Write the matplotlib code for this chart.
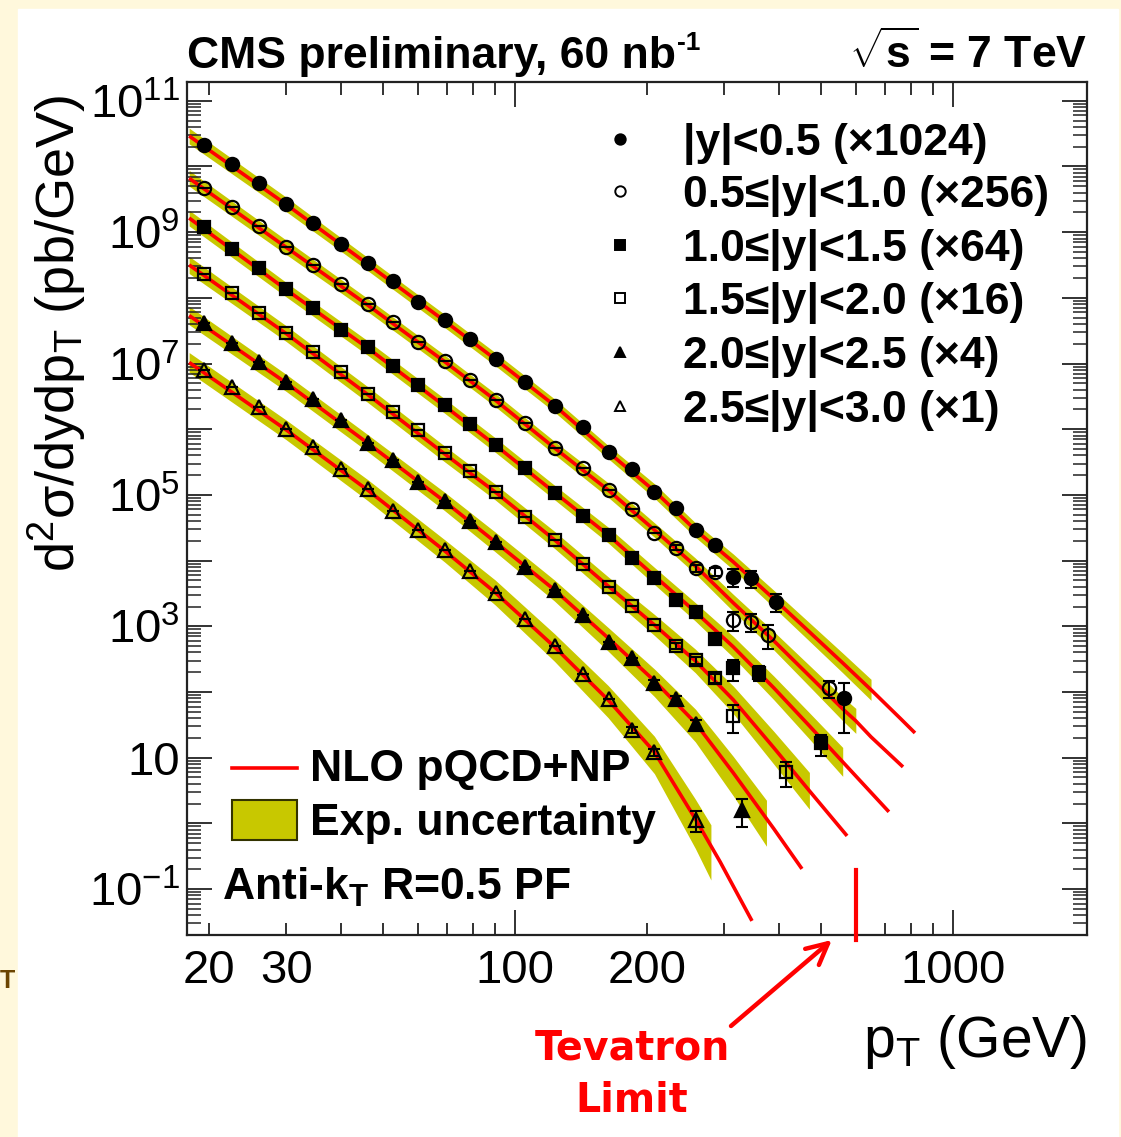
import numpy as np
import matplotlib
matplotlib.use("Agg")
import matplotlib.pyplot as plt
from matplotlib.patches import Rectangle
from matplotlib.lines import Line2D
from matplotlib.ticker import FixedLocator, FuncFormatter, NullFormatter

plt.rcParams["font.family"] = ["Liberation Sans", "DejaVu Sans"]
plt.rcParams["mathtext.fontset"] = "custom"
plt.rcParams["mathtext.rm"] = "Liberation Sans"
plt.rcParams["mathtext.it"] = "Liberation Sans:italic"
plt.rcParams["mathtext.bf"] = "Liberation Sans:bold"

W, H = 1121, 1137

# rapidity bins, each scaled by the factor quoted in its label
rap_labels = ["|y|<0.5 (×1024)", "0.5≤|y|<1.0 (×256)", "1.0≤|y|<1.5 (×64)",
              "1.5≤|y|<2.0 (×16)", "2.0≤|y|<2.5 (×4)", "2.5≤|y|<3.0 (×1)"]
markers = ["o", "o", "s", "s", "^", "^"]
filled = [True, False, True, False, True, False]

# jet pT bin centres (GeV)
pt_bins = [19.5, 22.5, 26, 30, 34.5, 40, 46, 52.5, 60, 69, 79, 90.5, 105.5,
           123.5, 143, 163.5, 185, 208, 232.5, 258.5, 286, 315, 346]

# measured d2sigma/dydpT in pb/GeV (already multiplied by the factor)
pt_y0 = pt_bins[:23] + [395, 565]
xs_y0 = [2.12e10, 1.08e10, 5.55e9, 2.69e9, 1.40e9, 6.61e8, 3.36e8, 1.81e8,
         8.75e7, 4.61e7, 2.34e7, 1.16e7, 5.19e6, 2.26e6, 1.10e6, 4.56e5,
         2.49e5, 1.12e5, 6.41e4, 2.93e4, 1.73e4, 5.71e3, 5.40e3, 2.38e3, 80.5]
pt_y1 = pt_bins[:23] + [378, 520]
xs_y1 = [4.75e9, 2.44e9, 1.24e9, 6.01e8, 3.17e8, 1.61e8, 8.0e7, 4.34e7,
         2.15e7, 1.11e7, 5.63e6, 2.79e6, 1.23e6, 5.14e5, 2.55e5, 1.19e5,
         6.12e4, 2.67e4, 1.58e4, 7.74e3, 6.80e3, 1.25e3, 1.18e3, 740, 114]
pt_y2 = pt_bins[:22] + [360, 500]
xs_y2 = [1.19e9, 5.55e8, 2.82e8, 1.37e8, 6.95e7, 3.25e7, 1.76e7, 9.10e6,
         4.72e6, 2.34e6, 1.20e6, 5.77e5, 2.55e5, 1.08e5, 4.79e4, 2.46e4,
         1.09e4, 5.51e3, 2.48e3, 1.66e3, 643, 230, 197, 16.6]
pt_y3 = pt_bins[:22] + [415]
xs_y3 = [2.29e8, 1.17e8, 5.83e7, 2.92e7, 1.48e7, 7.40e6, 3.44e6, 1.85e6,
         9.76e5, 4.31e5, 2.30e5, 1.12e5, 4.67e4, 2.07e4, 8.91e3, 3.94e3,
         2.05e3, 1.05e3, 500, 308, 162, 43.6, 6.04]
pt_y4 = pt_bins[:20] + [330]
xs_y4 = [4.10e7, 2.08e7, 1.07e7, 5.30e6, 2.86e6, 1.39e6, 6.25e5, 3.41e5,
         1.59e5, 8.19e4, 4.06e4, 1.91e4, 8.10e3, 3.58e3, 1.49e3, 585, 327,
         138, 78, 32.1, 1.60]
pt_y5 = pt_bins[:18] + [258.5]
xs_y5 = [8.0e6, 4.36e6, 2.16e6, 1.01e6, 5.32e5, 2.46e5, 1.22e5, 5.77e4,
         2.93e4, 1.44e4, 7.02e3, 3.26e3, 1.30e3, 508, 189, 77.6, 26.5, 12.0,
         1.13]

# relative statistical errors of the last (high-pT) points of each bin
stat_tail = [
    [0.06, 0.08, 0.12, 0.30, 0.30, 0.30, 0.70],
    [0.08, 0.12, 0.15, 0.32, 0.30, 0.40, 0.30],
    [0.08, 0.12, 0.15, 0.35, 0.25, 0.35],
    [0.10, 0.12, 0.15, 0.45, 0.40],
    [0.10, 0.12, 0.15, 0.45],
    [0.10, 0.12, 0.35],
]

# NLO pQCD + NP prediction (pb/GeV, scaled)
nlo_pt_y0 = [18, 30, 46, 69, 90, 123, 163, 208, 258, 315, 390, 470, 560, 650, 760, 819]
nlo_y0 = [2.91e10, 2.64e9, 3.28e8, 4.45e7, 1.17e7, 2.30e6, 4.51e5, 1.15e5,
          2.93e4, 9.55e3, 2.61e3, 822, 277, 108, 39.0, 23.8]
nlo_pt_y1 = [18, 30, 46, 69, 90, 123, 163, 208, 258, 315, 390, 470, 560, 600, 650, 769]
nlo_y1 = [6.61e9, 5.87e8, 7.80e7, 1.07e7, 2.79e6, 5.19e5, 1.19e5, 2.93e4,
          8.30e3, 2.27e3, 600, 176, 55.3, 36.3, 20.7, 7.24]
nlo_pt_y2 = [18, 30, 46, 69, 90, 123, 163, 208, 258, 315, 390, 470, 560, 714]
nlo_y2 = [1.64e9, 1.33e8, 1.73e7, 2.26e6, 5.77e5, 1.09e5, 2.46e4, 5.85e3,
          1.66e3, 486, 115, 30.5, 8.63, 1.50]
nlo_pt_y3 = [18, 30, 46, 69, 90, 123, 163, 208, 258, 315, 390, 470, 573]
nlo_y3 = [3.17e8, 2.85e7, 3.39e6, 4.21e5, 1.11e5, 2.07e4, 4.12e3, 1.05e3,
          297, 75.9, 14.1, 3.13, 0.645]
nlo_pt_y4 = [18, 30, 46, 69, 90, 123, 163, 208, 258, 315, 375, 390, 452]
nlo_y4 = [5.38e7, 5.07e6, 6.18e5, 7.96e4, 1.93e4, 3.58e3, 666, 148, 33.9,
          5.87, 1.18, 0.824, 0.203]
nlo_pt_y5 = [18, 30, 46, 69, 90, 123, 163, 208, 258, 280, 294, 347.5]
nlo_y5 = [1.04e7, 9.76e5, 1.19e5, 1.41e4, 3.28e3, 486, 75.9, 12.2, 1.17,
          0.455, 0.259, 0.0328]

# experimental uncertainty band, in decades below / above the prediction
band_dn = [
    [0.12, 0.11, 0.10, 0.10, 0.10, 0.10, 0.10, 0.11, 0.11, 0.12, 0.13, 0.14, 0.15, 0.16],
    [0.12, 0.11, 0.10, 0.10, 0.10, 0.10, 0.11, 0.11, 0.12, 0.13, 0.14, 0.16, 0.18, 0.19],
    [0.12, 0.11, 0.11, 0.11, 0.11, 0.11, 0.12, 0.13, 0.14, 0.16, 0.18, 0.20, 0.22],
    [0.13, 0.12, 0.12, 0.12, 0.12, 0.13, 0.14, 0.16, 0.18, 0.21, 0.25, 0.28],
    [0.14, 0.13, 0.13, 0.14, 0.15, 0.17, 0.20, 0.24, 0.29, 0.35, 0.42],
    [0.15, 0.15, 0.16, 0.17, 0.19, 0.22, 0.27, 0.33, 0.45, 0.52],
]
band_up = [
    [0.12, 0.11, 0.10, 0.10, 0.10, 0.10, 0.10, 0.11, 0.11, 0.12, 0.13, 0.14, 0.15, 0.16],
    [0.12, 0.11, 0.10, 0.10, 0.10, 0.10, 0.11, 0.11, 0.12, 0.13, 0.14, 0.16, 0.18, 0.19],
    [0.12, 0.11, 0.11, 0.11, 0.11, 0.11, 0.12, 0.13, 0.14, 0.16, 0.18, 0.20, 0.22],
    [0.13, 0.12, 0.12, 0.12, 0.12, 0.13, 0.14, 0.16, 0.18, 0.21, 0.25, 0.28],
    [0.14, 0.13, 0.13, 0.14, 0.15, 0.15, 0.16, 0.18, 0.21, 0.25, 0.28],
    [0.15, 0.15, 0.16, 0.17, 0.19, 0.20, 0.22, 0.24, 0.30, 0.32],
]

tevatron_limit = 600  # GeV

data_pt = [pt_y0, pt_y1, pt_y2, pt_y3, pt_y4, pt_y5]
data_xs = [xs_y0, xs_y1, xs_y2, xs_y3, xs_y4, xs_y5]
nlo_pt = [nlo_pt_y0, nlo_pt_y1, nlo_pt_y2, nlo_pt_y3, nlo_pt_y4, nlo_pt_y5]
nlo_xs = [nlo_y0, nlo_y1, nlo_y2, nlo_y3, nlo_y4, nlo_y5]

BAND = "#c8c800"
RED = "#ff0000"


def fx(px):
    return px / W


def fy(py):
    return 1 - py / H


fig = plt.figure(figsize=(W / 100, H / 100), dpi=100)
fig.patch.set_facecolor("#fff8dc")
fig.patches.append(Rectangle((fx(18), 0), fx(1118) - fx(18), fy(9),
                             transform=fig.transFigure, color="white", zorder=-5))

ax = fig.add_axes([fx(187), fy(935), fx(1087) - fx(187), fy(82) - fy(935)])
ax.set_zorder(1)
ax.set_xscale("log")
ax.set_yscale("log")
ax.set_xlim(17.8, 2024)
ax.set_ylim(0.02, 1.93e11)

for i in range(6):
    pt = np.array(nlo_pt[i])
    xs = np.array(nlo_xs[i])
    n = len(band_dn[i])
    lo = xs[:n] * 10 ** (-np.array(band_dn[i]))
    hi = xs[:n] * 10 ** np.array(band_up[i])
    ax.fill_between(pt[:n], lo, hi, color=BAND, lw=0, zorder=1)
    ax.plot(pt, xs, color=RED, lw=2.6, zorder=2, solid_capstyle="butt")

for i in range(6):
    pt = np.array(data_pt[i])
    xs = np.array(data_xs[i])
    tail = np.array(stat_tail[i])
    yerr = np.zeros_like(xs)
    yerr[-len(tail):] = tail * xs[-len(tail):]
    ax.errorbar(pt, xs, yerr=yerr, fmt="none", ecolor="black", elinewidth=1.5,
                capsize=4.5, capthick=1.5, zorder=3)
    ms = 9.5 if markers[i] != "s" else 8.5
    ax.plot(pt, xs, ls="none", marker=markers[i], ms=ms,
            mfc="black" if filled[i] else "none", mec="black", mew=1.6, zorder=4)

# Tevatron reach marker
ax.plot([tevatron_limit, tevatron_limit], [0.0169, 0.196], color=RED, lw=3,
        clip_on=False, zorder=5)
ax.annotate("", xy=(529, 0.0168), xycoords="data",
            xytext=(fx(731), fy(1026)), textcoords="figure fraction",
            arrowprops=dict(arrowstyle="->", color=RED, lw=3.2, mutation_scale=38,
                            shrinkA=0, shrinkB=0),
            annotation_clip=False)
fig.text(fx(632), fy(1049), "Tevatron", color=RED, fontsize=28.5, fontweight="bold",
         family="DejaVu Sans", ha="center", va="center")
fig.text(fx(632), fy(1101), "Limit", color=RED, fontsize=28.5, fontweight="bold",
         family="DejaVu Sans", ha="center", va="center")

# axes styling
for s in ax.spines.values():
    s.set_linewidth(1.6)
    s.set_color("#222222")

ax.xaxis.set_major_locator(FixedLocator([100, 1000]))
ax.xaxis.set_minor_locator(FixedLocator([20, 30, 40, 50, 60, 70, 80, 90,
                                         200, 300, 400, 500, 600, 700, 800, 900]))
ax.xaxis.set_major_formatter(FuncFormatter(lambda v, p: "%d" % round(v)))
ax.xaxis.set_minor_formatter(FuncFormatter(
    lambda v, p: "%d" % round(v) if round(v) in (20, 30, 200) else ""))

decades = range(-2, 12)
ax.yaxis.set_major_locator(FixedLocator([10.0 ** e for e in decades]))
ax.yaxis.set_minor_locator(FixedLocator([m * 10.0 ** e for e in decades
                                         for m in range(2, 10)]))


def ylab(v, pos):
    e = int(round(np.log10(v)))
    if e % 2 == 0:
        return ""
    if e == 1:
        return "10"
    return r"$\mathregular{10^{%d}}$" % e


ax.yaxis.set_major_formatter(FuncFormatter(ylab))
ax.yaxis.set_minor_formatter(NullFormatter())

ax.tick_params(which="both", direction="in", top=True, right=True,
               width=1.3, colors="#222222", labelcolor="black", labelsize=34)
ax.tick_params(which="major", length=18)
ax.tick_params(which="minor", length=9)
ax.tick_params(axis="y", which="minor", length=10, width=1.1)
ax.tick_params(axis="x", which="both", pad=10)
ax.tick_params(axis="y", which="both", pad=5)

# axis titles
fig.text(fx(57), fy(95), r"$\mathregular{d^{2}}$σ/dydp$_\mathregular{T}$ (pb/GeV)",
         rotation=90, fontsize=39, ha="center", va="top")
fig.text(fx(1087), fy(1057), r"p$_\mathregular{T}$ (GeV)", fontsize=41,
         ha="right", va="baseline")

fig.text(fx(187), fy(68), "CMS preliminary, 60 nb", fontsize=32,
         fontweight="bold", ha="left", va="baseline")
fig.text(fx(677), fy(50), "-1", fontsize=19, fontweight="bold",
         ha="left", va="baseline")
fig.text(fx(1087), fy(68), r"$\sqrt{\mathbf{s}}$ = 7 TeV", fontsize=32,
         fontweight="bold", ha="right", va="baseline")

# rapidity legend
rows = [139, 191, 245, 298, 352, 406]
for i in range(6):
    fig.add_artist(Line2D([fx(620)], [fy(rows[i])], ls="none", marker=markers[i],
                          ms=7.5 if markers[i] != "s" else 7,
                          mfc="black" if filled[i] else "white", mec="black",
                          mew=1.4, transform=fig.transFigure, zorder=6))
    fig.text(fx(683), fy(rows[i]), rap_labels[i], fontsize=32, fontweight="bold",
             ha="left", va="center_baseline", zorder=6)

# theory / uncertainty legend
fig.add_artist(Line2D([fx(232), fx(297)], [fy(768), fy(768)], color=RED, lw=2.6,
                      transform=fig.transFigure, zorder=6))
fig.patches.append(Rectangle((fx(232), fy(840)), fx(297) - fx(232), fy(800) - fy(840),
                             transform=fig.transFigure, facecolor=BAND,
                             edgecolor="#333300", lw=1.5, zorder=6))
fig.text(fx(310), fy(781), "NLO pQCD+NP", fontsize=32, fontweight="bold",
         ha="left", va="baseline", zorder=6)
fig.text(fx(310), fy(835), "Exp. uncertainty", fontsize=32, fontweight="bold",
         ha="left", va="baseline", zorder=6)
fig.text(fx(222), fy(900), r"Anti-k$_\mathbf{T}$ R=0.5 PF", fontsize=32,
         fontweight="bold", ha="left", va="baseline", zorder=6)

fig.text(fx(7), fy(981), "T", color="#6b4400", fontsize=18, fontweight="bold",
         ha="center", va="center")

fig.savefig("out.png", dpi=100, facecolor=fig.get_facecolor())
